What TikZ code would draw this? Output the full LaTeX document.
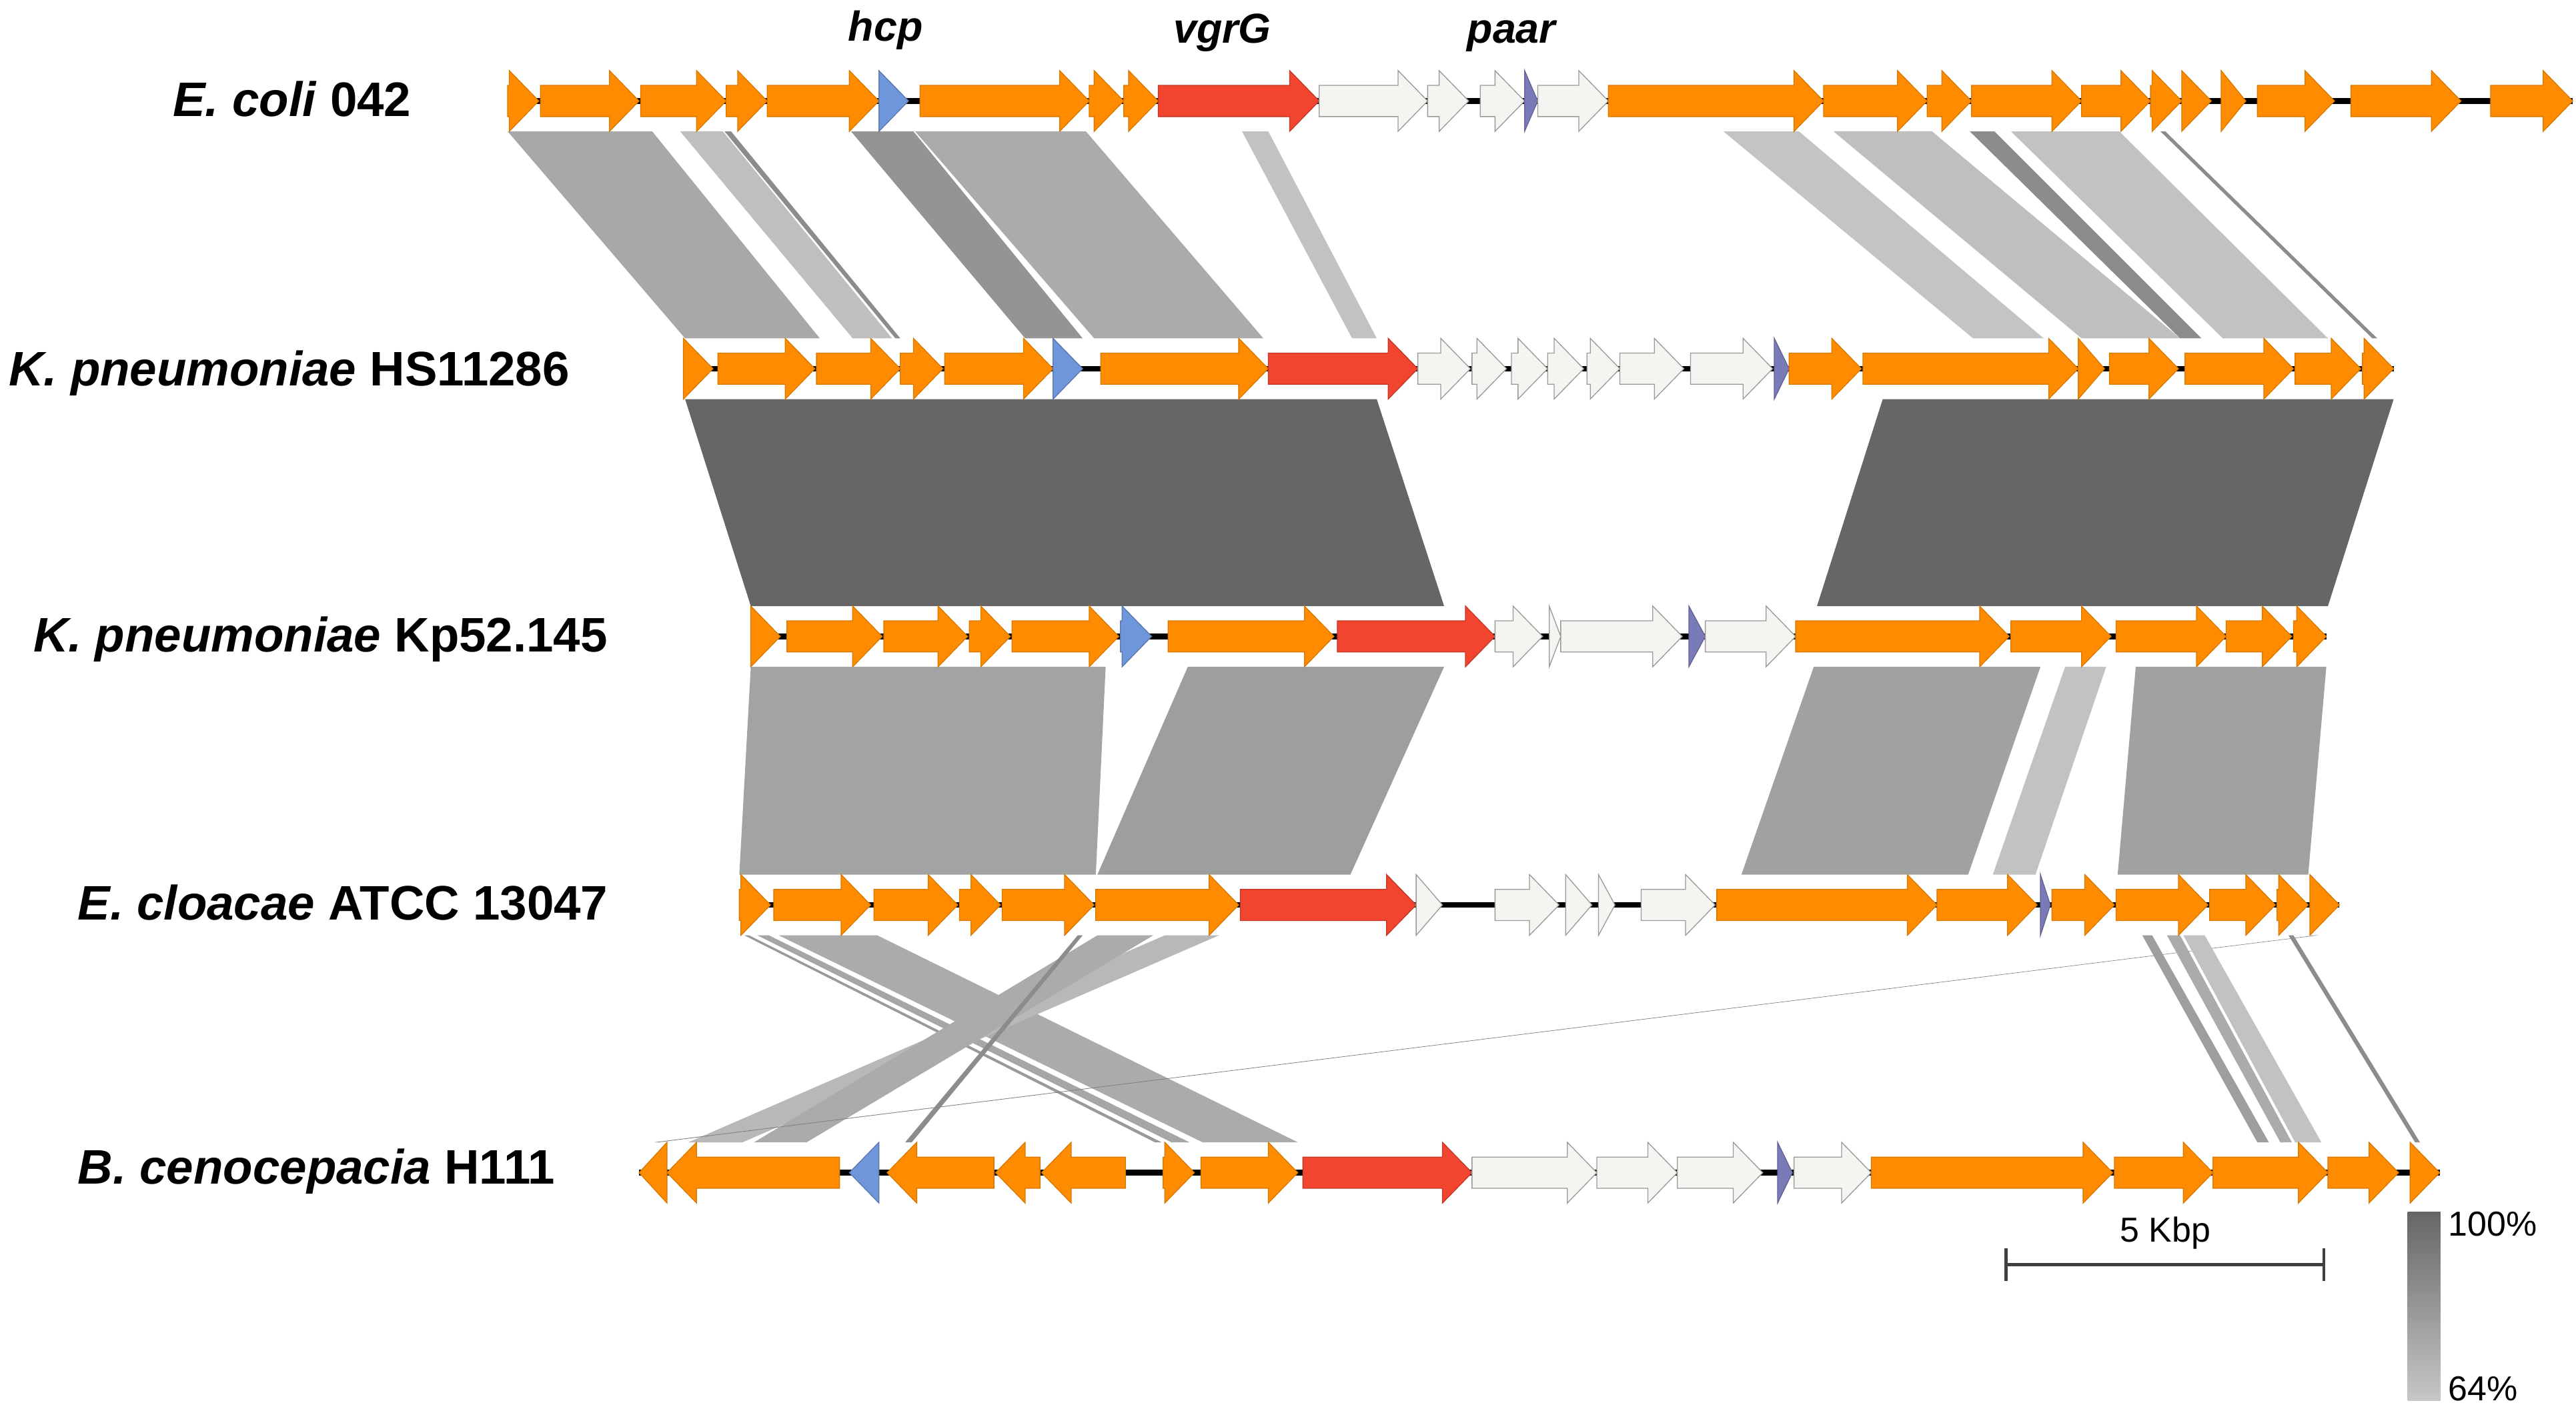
\documentclass[tikz,border=0pt]{standalone}
\usepackage{fontspec}
\setmainfont{Liberation Sans}
\usetikzlibrary{positioning}

\definecolor{orfc}{HTML}{FF8C00}
\definecolor{orfd}{HTML}{D97800}
\definecolor{vgrc}{HTML}{F2452F}
\definecolor{hcpc}{HTML}{6F95DA}
\definecolor{paac}{HTML}{7A7AB8}
\definecolor{hypc}{HTML}{F4F4F0}

% forward / reverse gene arrow: start, end, row, style
\newcommand{\fwd}[4]{%
  \pgfmathsetmacro{\gHead}{max(#1,#2-18)}%
  \filldraw[#4] (#1,#3-9.5) -- (\gHead,#3-9.5) -- (\gHead,#3-18.5) -- (#2,#3)
    -- (\gHead,#3+18.5) -- (\gHead,#3+9.5) -- (#1,#3+9.5) -- cycle;}
\newcommand{\rev}[4]{%
  \pgfmathsetmacro{\gHead}{min(#2,#1+18)}%
  \filldraw[#4] (#2,#3-9.5) -- (\gHead,#3-9.5) -- (\gHead,#3-18.5) -- (#1,#3)
    -- (\gHead,#3+18.5) -- (\gHead,#3+9.5) -- (#2,#3+9.5) -- cycle;}
% blast hit: top start/end, bottom start/end, top y, bottom y, colour
\newcommand{\band}[7]{%
  \fill[#7] (#1,#5) -- (#2,#5) -- (#4,#6) -- (#3,#6) -- cycle;}

\begin{document}
\begin{tikzpicture}[x=0.2mm,y=-0.2mm]
    \tikzstyle{orf}=[fill=orfc,draw=orfd,line width=0.3pt]
    \tikzstyle{vgr}=[fill=vgrc,draw=vgrc!80!black,line width=0.3pt]
    \tikzstyle{hcpg}=[fill=hcpc,draw=hcpc!80!black,line width=0.3pt]
    \tikzstyle{paa}=[fill=paac,draw=paac!80!black,line width=0.3pt]
    \tikzstyle{hyp}=[fill=hypc,draw=black!40,line width=0.3pt]
    \tikzstyle{bb}=[line width=0.68mm,black]
    \tikzstyle{sbar}=[line width=0.35mm,black!75]
    \tikzstyle{strain}=[font=\fontsize{16.8}{20}\selectfont\bfseries,anchor=base west,inner sep=0pt]
    \tikzstyle{gname}=[font=\fontsize{14.5}{17}\selectfont\bfseries\itshape,anchor=base,inner sep=0pt]
    \tikzstyle{txt}=[font=\fontsize{12}{14}\selectfont,inner sep=0pt]

    \useasboundingbox (0,0) rectangle (1568,859);

    \band{309}{397}{417}{499}{80}{206}{black!34}
    \band{414}{440}{519}{543}{80}{206}{black!25}
    \band{441}{445}{545}{548}{80}{206}{black!45}
    \band{518}{556}{624}{659}{80}{206}{black!42}
    \band{557}{661}{666}{769}{80}{206}{black!33}
    \band{756}{772}{823}{838}{80}{206}{black!24}
    \band{1049}{1095}{1201}{1244}{80}{206}{black!23}
    \band{1116}{1176}{1267}{1327}{80}{206}{black!25}
    \band{1199}{1214}{1327}{1340}{80}{206}{black!45}
    \band{1224}{1290}{1353}{1417}{80}{206}{black!24}
    \band{1315}{1318}{1444}{1447}{80}{206}{black!45}

    \band{417}{838}{457}{879}{243}{369}{black!60}
    \band{1146}{1457}{1106}{1417}{243}{369}{black!60}

    \band{457}{673}{450}{667}{406}{532.5}{black!36}
    \band{723}{879}{668}{822}{406}{532.5}{black!38}
    \band{1104}{1242}{1060}{1198}{406}{532.5}{black!37}
    \band{1257}{1282}{1213}{1239}{406}{532.5}{black!24}
    \band{1300}{1416}{1289}{1405}{406}{532.5}{black!37}

    \band{453}{456}{703}{707}{569.5}{695.5}{black!40}
    \band{461}{468}{713}{724}{569.5}{695.5}{black!35}
    \band{474}{534}{732}{790}{569.5}{695.5}{black!33}
    \band{709}{742}{419}{452}{569.5}{695.5}{black!28}
    \band{668}{702}{459}{491}{569.5}{695.5}{black!33}
    \band{656}{659}{551}{555}{569.5}{695.5}{black!45}
    \band{1409}{1411}{398}{401}{569.5}{695.5}{black!50}
    \band{1304}{1310}{1374}{1381}{569.5}{695.5}{black!38}
    \band{1319}{1327}{1388}{1395}{569.5}{695.5}{black!33}
    \band{1329}{1342}{1397}{1413}{569.5}{695.5}{black!24}
    \band{1393}{1396}{1470}{1473}{569.5}{695.5}{black!45}

    % E. coli 042
    \draw[bb] (309,61.5) -- (1566,61.5);
    \fwd{309}{328}{61.5}{orf} \fwd{329}{389}{61.5}{orf} \fwd{390}{442}{61.5}{orf}
    \fwd{442}{467}{61.5}{orf} \fwd{467}{535}{61.5}{orf} \fwd{535}{553}{61.5}{hcpg}
    \fwd{560}{663}{61.5}{orf} \fwd{663}{684}{61.5}{orf} \fwd{684}{705}{61.5}{orf}
    \fwd{705}{803}{61.5}{vgr} \fwd{803}{869}{61.5}{hyp} \fwd{869}{894}{61.5}{hyp}
    \fwd{901}{928}{61.5}{hyp} \fwd{928}{936}{61.5}{paa} \fwd{936}{979}{61.5}{hyp}
    \fwd{979}{1110}{61.5}{orf} \fwd{1110}{1173}{61.5}{orf} \fwd{1173}{1200}{61.5}{orf}
    \fwd{1200}{1267}{61.5}{orf} \fwd{1267}{1309}{61.5}{orf} \fwd{1309}{1328}{61.5}{orf}
    \fwd{1328}{1346}{61.5}{orf} \fwd{1352}{1367}{61.5}{orf} \fwd{1374}{1421}{61.5}{orf}
    \fwd{1431}{1498}{61.5}{orf} \fwd{1516}{1566}{61.5}{orf}

    % K. pneumoniae HS11286
    \draw[bb] (416,224.5) -- (1457,224.5);
    \fwd{416}{434}{224.5}{orf} \fwd{437}{496}{224.5}{orf} \fwd{497}{548}{224.5}{orf}
    \fwd{548}{574}{224.5}{orf} \fwd{575}{641}{224.5}{orf} \fwd{641}{659}{224.5}{hcpg}
    \fwd{670}{772}{224.5}{orf} \fwd{772}{863}{224.5}{vgr} \fwd{863}{895}{224.5}{hyp}
    \fwd{896}{917}{224.5}{hyp} \fwd{920}{942}{224.5}{hyp} \fwd{942}{964}{224.5}{hyp}
    \fwd{966}{986}{224.5}{hyp} \fwd{986}{1025}{224.5}{hyp} \fwd{1029}{1079}{224.5}{hyp}
    \fwd{1080}{1089}{224.5}{paa} \fwd{1089}{1133}{224.5}{orf} \fwd{1134}{1265}{224.5}{orf}
    \fwd{1265}{1281}{224.5}{orf} \fwd{1284}{1326}{224.5}{orf} \fwd{1330}{1396}{224.5}{orf}
    \fwd{1397}{1437}{224.5}{orf} \fwd{1438}{1457}{224.5}{orf}

    % K. pneumoniae Kp52.145
    \draw[bb] (457,387.5) -- (1416,387.5);
    \fwd{457}{475}{387.5}{orf} \fwd{479}{537}{387.5}{orf} \fwd{538}{589}{387.5}{orf}
    \fwd{590}{615}{387.5}{orf} \fwd{616}{681}{387.5}{orf} \fwd{682}{701}{387.5}{hcpg}
    \fwd{711}{812}{387.5}{orf} \fwd{814}{910}{387.5}{vgr} \fwd{910}{939}{387.5}{hyp}
    \fwd{943}{950}{387.5}{hyp} \fwd{950}{1024}{387.5}{hyp} \fwd{1028}{1038}{387.5}{paa}
    \fwd{1038}{1093}{387.5}{hyp} \fwd{1093}{1223}{387.5}{orf} \fwd{1224}{1285}{387.5}{orf}
    \fwd{1288}{1355}{387.5}{orf} \fwd{1355}{1395}{387.5}{orf} \fwd{1396}{1416}{387.5}{orf}

    % E. cloacae ATCC 13047
    \draw[bb] (450,551) -- (1424,551);
    \fwd{450}{469}{551}{orf} \fwd{471}{530}{551}{orf} \fwd{532}{583}{551}{orf}
    \fwd{584}{609}{551}{orf} \fwd{610}{666}{551}{orf} \fwd{667}{754}{551}{orf}
    \fwd{755}{862}{551}{vgr} \fwd{862}{878}{551}{hyp} \fwd{910}{949}{551}{hyp}
    \fwd{953}{969}{551}{hyp} \fwd{973}{983}{551}{hyp} \fwd{999}{1044}{551}{hyp}
    \fwd{1045}{1179}{551}{orf} \fwd{1179}{1240}{551}{orf} \fwd{1242}{1248}{551}{paa}
    \fwd{1249}{1287}{551}{orf} \fwd{1288}{1344}{551}{orf} \fwd{1345}{1385}{551}{orf}
    \fwd{1386}{1405}{551}{orf} \fwd{1406}{1424}{551}{orf}

    % B. cenocepacia H111
    \draw[bb] (389,714) -- (1485,714);
    \rev{389}{406}{714}{orf} \rev{406}{511}{714}{orf} \rev{517}{535}{714}{hcpg}
    \rev{540}{605}{714}{orf} \rev{606}{633}{714}{orf} \rev{634}{685}{714}{orf}
    \fwd{708}{727}{714}{orf} \fwd{731}{790}{714}{orf} \fwd{793}{896}{714}{vgr}
    \fwd{896}{972}{714}{hyp} \fwd{972}{1021}{714}{hyp} \fwd{1021}{1073}{714}{hyp}
    \fwd{1082}{1091}{714}{paa} \fwd{1092}{1139}{714}{hyp} \fwd{1139}{1286}{714}{orf}
    \fwd{1287}{1347}{714}{orf} \fwd{1347}{1417}{714}{orf} \fwd{1417}{1460}{714}{orf}
    \fwd{1467}{1485}{714}{orf}

    \node[strain] (ec042) at (105,71) {\textit{E. coli} 042};
    \node[strain] (kpHS) at (5,235) {\textit{K. pneumoniae} HS11286};
    \node[strain] (kpKp) at (20,397) {\textit{K. pneumoniae} Kp52.145};
    \node[strain] (ecATCC) at (47,560) {\textit{E. cloacae} ATCC 13047};
    \node[strain] (bcH111) at (47,721) {\textit{B. cenocepacia} H111};

    \node[gname] (hcp) at (539,25) {hcp};
    \node[gname] (vgrG) at (744,26) {vgrG};
    \node[gname] (paar) at (920,26) {paar};

    \coordinate (sbl) at (1221,770);
    \coordinate (sbm) at (1318,770);
    \coordinate (sbr) at (1414.5,770);
    \draw[sbar] (sbl) -- (sbr);
    \draw[sbar] (sbl) ++(0,-10) -- ++(0,20);
    \draw[sbar] (sbr) ++(0,-10) -- ++(0,20);
    \node[txt,above=1.8mm of sbm] (kbp) {5 Kbp};

    \node[top color=black!60,bottom color=black!22,minimum width=4mm,minimum height=23mm,inner sep=0pt] (idbar) at (1475.5,795.5) {};
    \node[txt,anchor=north west] (pmax) at ([xshift=0.8mm]idbar.north east) {100\%};
    \node[txt,anchor=south west] (pmin) at ([xshift=0.8mm]idbar.south east) {64\%};
\end{tikzpicture}
\end{document}
